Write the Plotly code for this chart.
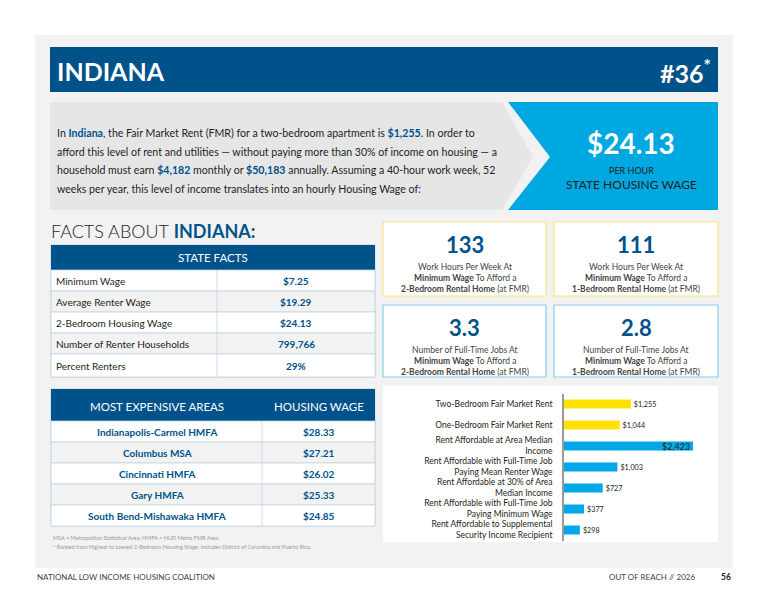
import plotly.graph_objects as go

W, H = 768, 593
state_name = "INDIANA"
rank = "#36"
fmr_2br = "$1,255"
monthly_income = "$4,182"
annual_income = "$50,183"
housing_wage = "$24.13"

fact_labels = ["Minimum Wage", "Average Renter Wage", "2-Bedroom Housing Wage",
               "Number of Renter Households", "Percent Renters"]
fact_values = ["$7.25", "$19.29", "$24.13", "799,766", "29%"]

area_names = ["Indianapolis-Carmel HMFA", "Columbus MSA", "Cincinnati HMFA",
              "Gary HMFA", "South Bend-Mishawaka HMFA"]
area_wages = ["$28.33", "$27.21", "$26.02", "$25.33", "$24.85"]

stat_values = ["133", "111", "3.3", "2.8"]
stat_line1 = ["Work Hours Per Week At", "Work Hours Per Week At",
              "Number of Full-Time Jobs At", "Number of Full-Time Jobs At"]
stat_line3 = ["2-Bedroom Rental Home", "1-Bedroom Rental Home",
              "2-Bedroom Rental Home", "1-Bedroom Rental Home"]

bar_labels = ["Two-Bedroom Fair Market Rent", "One-Bedroom Fair Market Rent",
              "Rent Affordable at Area Median<br>Income",
              "Rent Affordable with Full-Time Job<br>Paying Mean Renter Wage",
              "Rent Affordable at 30% of Area<br>Median Income",
              "Rent Affordable with Full-Time Job<br>Paying Minimum Wage",
              "Rent Affordable to Supplemental<br>Security Income Recipient"]
bar_values = [1255, 1044, 2423, 1003, 727, 377, 298]
bar_colors = ["#ffe100", "#ffe100", "#00a8e6", "#00a8e6", "#00a8e6", "#00a8e6", "#00a8e6"]

NAVY = "#00528a"
BLUE = "#00a8e1"
TXT = "#231f20"
FONT = "Lato"

def px(x): return x / W
def py(y): return 1 - y / H

shapes, ann = [], []

def rect(x0, y0, x1, y1, fill, line=None, lw=1):
    shapes.append(dict(type="rect", xref="paper", yref="paper", x0=px(x0), x1=px(x1),
                       y0=py(y1), y1=py(y0), fillcolor=fill,
                       line=dict(color=line or fill, width=lw if line else 0), layer="below"))

def poly(pts, fill):
    d = "M" + " L".join(f"{px(x):.5f},{py(y):.5f}" for x, y in pts) + " Z"
    shapes.append(dict(type="path", xref="paper", yref="paper", path=d, fillcolor=fill,
                       line=dict(width=0), layer="below"))

def text(x, y, s, size, color=TXT, xa="left", bold=False, family=FONT):
    if bold:
        s = f"<b>{s}</b>"
    ann.append(dict(xref="paper", yref="paper", x=px(x), y=py(y), text=s, showarrow=False,
                    xanchor=xa, yanchor="middle", font=dict(size=size, color=color, family=family)))

# page
rect(35, 35, 733, 568, "#f2f2f2")
rect(50, 47, 718, 92, NAVY)
text(55, 71, state_name, 25, "white", bold=True)
text(713, 71, f"{rank}<sup>*</sup>", 25, "white", xa="right", bold=True)

poly([(50, 102), (502, 102), (533, 157), (502, 210), (50, 210)], "#e6e6e7")
poly([(508, 102), (718, 102), (718, 210), (508, 210), (550, 157)], BLUE)
B = f"<span style='color:{NAVY}'><b>%s</b></span>"
lines = [
    f"In {B % state_name.title()}, the Fair Market Rent (FMR) for a two-bedroom apartment is {B % fmr_2br}. In order to",
    "afford this level of rent and utilities — without paying more than 30% of income on housing — a",
    f"household must earn {B % monthly_income} monthly or {B % annual_income} annually. Assuming a 40-hour work week, 52",
    "weeks per year, this level of income translates into an hourly Housing Wage of:",
]
for i, l in enumerate(lines):
    text(55, 133 + i * 18.7, l, 10.6)
text(631, 143, housing_wage, 28, "white", xa="center", bold=True)
text(631, 170, "PER HOUR", 9, TXT, xa="center")
text(631, 184, "STATE HOUSING WAGE", 12, TXT, xa="center")

text(49, 231, f"<span style='font-family:Lato Light, Lato'>FACTS ABOUT</span> <span style='color:{NAVY}'><b>{state_name}:</b></span>", 18)

# state facts table
BORDER = "#c2d3e3"
rect(51, 245, 375, 377, "white", BORDER)
rect(51, 245, 375, 270, NAVY)
text(213, 258, "STATE FACTS", 11.5, "white", xa="center")
ys = [270, 291, 312, 333, 354, 377]
for i in range(5):
    rect(51, ys[i], 375, ys[i + 1], "white" if i % 2 == 0 else "#f2f2f2", BORDER, 0.8)
    text(54, (ys[i] + ys[i + 1]) / 2, fact_labels[i], 10)
    text(296, (ys[i] + ys[i + 1]) / 2, fact_values[i], 10, NAVY, xa="center", bold=True)
shapes.append(dict(type="line", xref="paper", yref="paper", x0=px(217), x1=px(217),
                   y0=py(377), y1=py(270), line=dict(color=BORDER, width=0.8)))

# expensive areas table
rect(51, 389, 375, 526, "white", BORDER)
rect(51, 389, 375, 421, NAVY)
text(157, 406, "MOST EXPENSIVE AREAS", 11.5, "white", xa="center")
text(319, 406, "HOUSING WAGE", 11.5, "white", xa="center")
ys = [421, 442, 463, 484, 505, 526]
for i in range(5):
    rect(51, ys[i], 375, ys[i + 1], "white" if i % 2 == 0 else "#f2f2f2", BORDER, 0.8)
    text(157, (ys[i] + ys[i + 1]) / 2, area_names[i], 10, NAVY, xa="center", bold=True)
    text(319, (ys[i] + ys[i + 1]) / 2, area_wages[i], 10, NAVY, xa="center", bold=True)
shapes.append(dict(type="line", xref="paper", yref="paper", x0=px(262), x1=px(262),
                   y0=py(526), y1=py(421), line=dict(color=BORDER, width=0.8)))

text(51, 538, "MSA = Metropolitan Statistical Area; HMFA = HUD Metro FMR Area.", 5.5, "#9a9a9a")
text(51, 547, "* Ranked from Highest to Lowest 2-Bedroom Housing Wage. Includes District of Columbia and Puerto Rico.", 5.5, "#9a9a9a")

# stat boxes
boxes = [(383, 222, 546, 296, "#f7e57c"), (554, 222, 718, 296, "#f7e57c"),
         (383, 305, 546, 377, "#86d0f0"), (554, 305, 718, 377, "#86d0f0")]
for i, (x0, y0, x1, y1, c) in enumerate(boxes):
    rect(x0, y0, x1, y1, "white", c, 1.2)
    cx = (x0 + x1) / 2
    text(cx, y0 + 22, stat_values[i], 22, NAVY, xa="center", bold=True)
    text(cx, y0 + 45, stat_line1[i], 8.5, "#444", xa="center")
    text(cx, y0 + 56, "<b>Minimum Wage</b> To Afford a", 8.5, "#444", xa="center")
    text(cx, y0 + 67, f"<b>{stat_line3[i]}</b> (at FMR)", 8.5, "#444", xa="center")

# bar panel
rect(383, 386, 718, 542, "white")

text(35, 577, "NATIONAL LOW INCOME HOUSING COALITION", 8, "#444")
text(697, 577, "OUT OF REACH // 2026", 8, "#444", xa="right")
text(733, 577, "<b>56</b>", 8.5, "#222", xa="right")

vmax = max(bar_values)
bar_text = ["" if v == vmax else f"${v:,}" for v in bar_values]
imax = bar_values.index(vmax)
ann.append(dict(xref="x", yref="y", x=vmax, y=bar_labels[imax], text=f"${vmax:,}",
                showarrow=False, xanchor="right", yanchor="middle", xshift=-1,
                font=dict(size=9, color=TXT, family=FONT)))

fig = go.Figure(go.Bar(
    x=bar_values, y=bar_labels, orientation="h", marker=dict(color=bar_colors, line=dict(width=0)),
    text=bar_text, textposition="outside", cliponaxis=False,
    textfont=dict(size=9, color=TXT, family=FONT), width=0.42,
))
fig.update_layout(
    width=W, height=H, autosize=False, margin=dict(l=0, r=0, t=0, b=0),
    paper_bgcolor="white", plot_bgcolor="rgba(0,0,0,0)", showlegend=False,
    shapes=shapes, annotations=ann, font=dict(family=FONT, color=TXT),
    xaxis=dict(domain=[px(564), px(718)], range=[0, 2423 * 154 / 129], visible=False, fixedrange=True),
    yaxis=dict(domain=[py(540.5), py(393.5)], autorange="reversed", showline=True,
               linecolor="#9a9a9a", linewidth=1.5, ticks="", tickfont=dict(size=8.5, color=TXT, family=FONT),
               ticklabelstandoff=8, showgrid=False),
)
fig.write_html("out.html", config={"displayModeBar": False},
               post_script="document.body.style.margin='0';document.body.style.overflow='hidden';")
